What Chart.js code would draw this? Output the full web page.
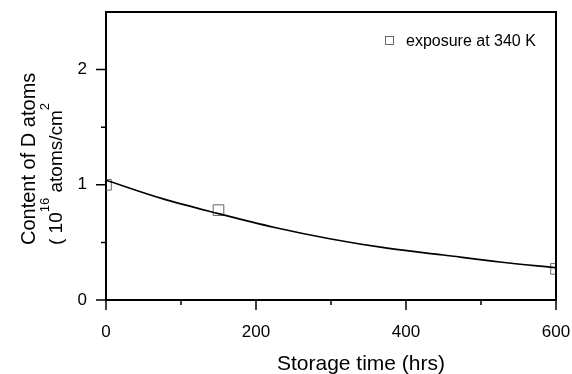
<!DOCTYPE html>
<html>
<head>
<meta charset="utf-8">
<script src="https://cdn.jsdelivr.net/npm/chart.js@4/dist/chart.umd.min.js"></script>
<style>
html,body{margin:0;padding:0;background:#fff;}
canvas{display:block;}
</style>
</head>
<body>
<canvas id="c" width="572" height="374"></canvas>
<script>
// ---- data ----
const markerTimes = [0, 150, 600];
const markerContent = [1.00, 0.78, 0.27];
const fitTimes = [0, 75, 150, 225, 300, 375, 450, 525, 600];
const fitContent = [1.04, 0.88, 0.75, 0.63, 0.53, 0.45, 0.39, 0.33, 0.28];
const xMajorTicks = [0, 200, 400, 600];
const xMinorTicks = [100, 300, 500];
const yMajorTicks = [0, 1, 2];
const yMinorTicks = [0.5, 1.5];
const legendLabel = 'exposure at 340 K';
const xTitle = 'Storage time (hrs)';
const yTitleLine1 = 'Content of D atoms';
const yTitleLine2 = [['( 10', false], ['16', true], [' atoms/cm', false], ['2', true]];

const FONT = "'Liberation Sans', Arial, sans-serif";

const decor = {
  id: 'decor',
  afterDraw(chart) {
    const ctx = chart.ctx;
    const a = chart.chartArea;
    const xs = chart.scales.x, ys = chart.scales.y;
    ctx.save();
    ctx.strokeStyle = '#000';
    // top & right frame
    ctx.lineWidth = 2;
    ctx.beginPath();
    ctx.moveTo(a.left - 1, a.top);
    ctx.lineTo(a.right, a.top);
    ctx.lineTo(a.right, a.bottom + 1);
    ctx.stroke();
    // ticks
    ctx.lineWidth = 1.5;
    ctx.beginPath();
    xMajorTicks.forEach(v => { const p = xs.getPixelForValue(v); ctx.moveTo(p, a.bottom); ctx.lineTo(p, a.bottom + 10); });
    xMinorTicks.forEach(v => { const p = xs.getPixelForValue(v); ctx.moveTo(p, a.bottom); ctx.lineTo(p, a.bottom + 5); });
    yMajorTicks.forEach(v => { const p = ys.getPixelForValue(v); ctx.moveTo(a.left, p); ctx.lineTo(a.left - 10, p); });
    yMinorTicks.forEach(v => { const p = ys.getPixelForValue(v); ctx.moveTo(a.left, p); ctx.lineTo(a.left - 5, p); });
    ctx.stroke();

    ctx.fillStyle = '#000';
    // x title
    ctx.font = '21px ' + FONT;
    ctx.textAlign = 'center';
    ctx.textBaseline = 'alphabetic';
    ctx.fillText(xTitle, 361, 370);

    // y title (rotated)
    ctx.textAlign = 'left';
    ctx.save();
    ctx.translate(35, 245);
    ctx.rotate(-Math.PI / 2);
    ctx.font = '20px ' + FONT;
    ctx.fillText(yTitleLine1, 0, 0);
    ctx.restore();

    ctx.save();
    ctx.translate(62, 245);
    ctx.rotate(-Math.PI / 2);
    let xpos = 0;
    yTitleLine2.forEach(([txt, sup]) => {
      ctx.font = (sup ? '13px ' : '19px ') + FONT;
      ctx.fillText(txt, xpos, sup ? -13 : 0);
      xpos += ctx.measureText(txt).width;
    });
    ctx.restore();

    // legend
    ctx.strokeStyle = '#666';
    ctx.lineWidth = 1;
    ctx.strokeRect(385.5, 36.5, 8, 8);
    ctx.font = '16px ' + FONT;
    ctx.fillStyle = '#000';
    ctx.fillText(legendLabel, 406, 46);
    ctx.restore();
  }
};

function zeroPad(s) { s.paddingTop = 0; s.paddingBottom = 0; s.paddingLeft = 0; s.paddingRight = 0; }

new Chart(document.getElementById('c'), {
  type: 'scatter',
  data: {
    datasets: [
      {
        type: 'line',
        label: 'fit',
        data: fitTimes.map((t, i) => ({x: t, y: fitContent[i]})),
        borderColor: '#000',
        borderWidth: 1.6,
        pointRadius: 0,
        fill: false,
        cubicInterpolationMode: 'monotone'
      },
      {
        label: legendLabel,
        data: markerTimes.map((t, i) => ({x: t, y: markerContent[i]})),
        pointStyle: 'rect',
        pointRadius: 7.5,
        borderWidth: 1,
        borderColor: '#666',
        backgroundColor: 'rgba(0,0,0,0)'
      }
    ]
  },
  options: {
    responsive: false,
    animation: false,
    events: [],
    layout: { padding: { top: 12, right: 16, left: 0, bottom: 0 } },
    plugins: { legend: { display: false }, tooltip: { enabled: false } },
    scales: {
      x: {
        type: 'linear',
        min: 0, max: 600,
        afterFit(s) { s.height = 74; zeroPad(s); },
        grid: { display: false, drawTicks: false },
        border: { display: true, color: '#000', width: 2 },
        ticks: {
          stepSize: 200,
          padding: 22,
          color: '#000',
          font: { family: FONT, size: 17 },
          callback: v => xMajorTicks.includes(v) ? String(v) : null
        }
      },
      y: {
        type: 'linear',
        min: 0, max: 2.5,
        afterFit(s) { s.width = 106; zeroPad(s); },
        grid: { display: false, drawTicks: false },
        border: { display: true, color: '#000', width: 2 },
        ticks: {
          stepSize: 0.5,
          padding: 19,
          color: '#000',
          font: { family: FONT, size: 17 },
          callback: v => yMajorTicks.includes(v) ? String(v) : null
        }
      }
    }
  },
  plugins: [decor]
});
</script>
</body>
</html>
